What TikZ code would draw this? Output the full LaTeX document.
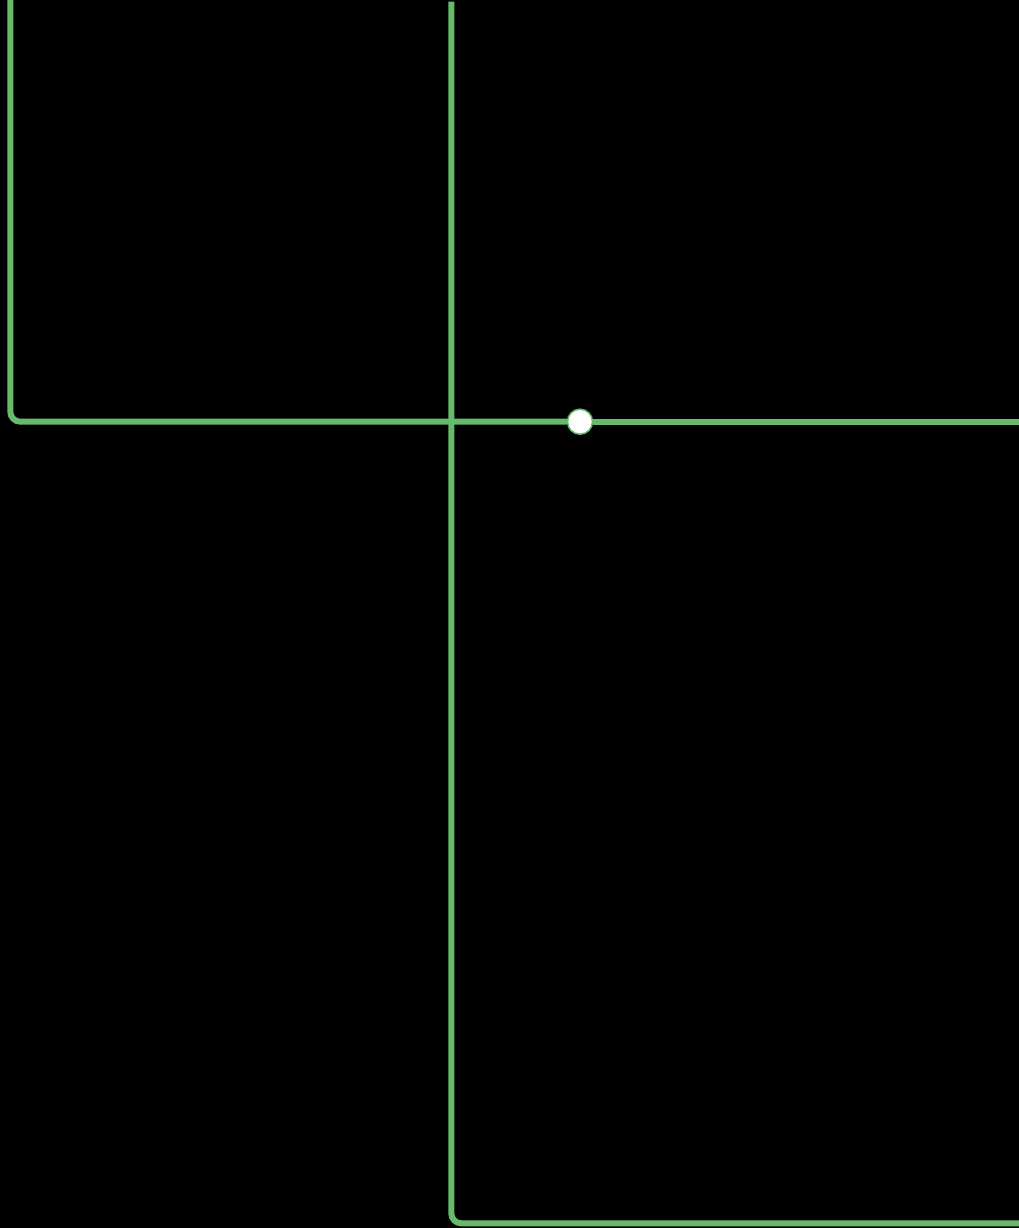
\documentclass[tikz,border=0pt]{standalone}
\definecolor{wire}{RGB}{102,187,106}
\begin{document}
\begin{tikzpicture}[x=1pt,y=-1pt,
  wireline/.style={draw=wire,line width=6pt,rounded corners=10pt},
  junction/.style={circle,draw=wire,fill=white,line width=1.5pt,minimum size=25pt,inner sep=0pt}]
\fill[black] (0,0) rectangle (1019,1228);
\useasboundingbox (0,0) rectangle (1019,1228);
\coordinate (ltop) at (10.3,-5);
\coordinate (lcorner) at (10.3,421.7);
\coordinate (rend) at (1025,421.7);
\coordinate (vtop) at (451.3,1.7);
\coordinate (vcorner) at (451.3,1223.3);
\coordinate (bend) at (1025,1223.3);
\node[junction] (j) at (580,421.7) {};
\draw[wireline] (ltop) -- (lcorner) -- (j.west);
\draw[wireline] (j.east) -- (rend);
\draw[wireline] (vtop) -- (vcorner) -- (bend);
\end{tikzpicture}
\end{document}
